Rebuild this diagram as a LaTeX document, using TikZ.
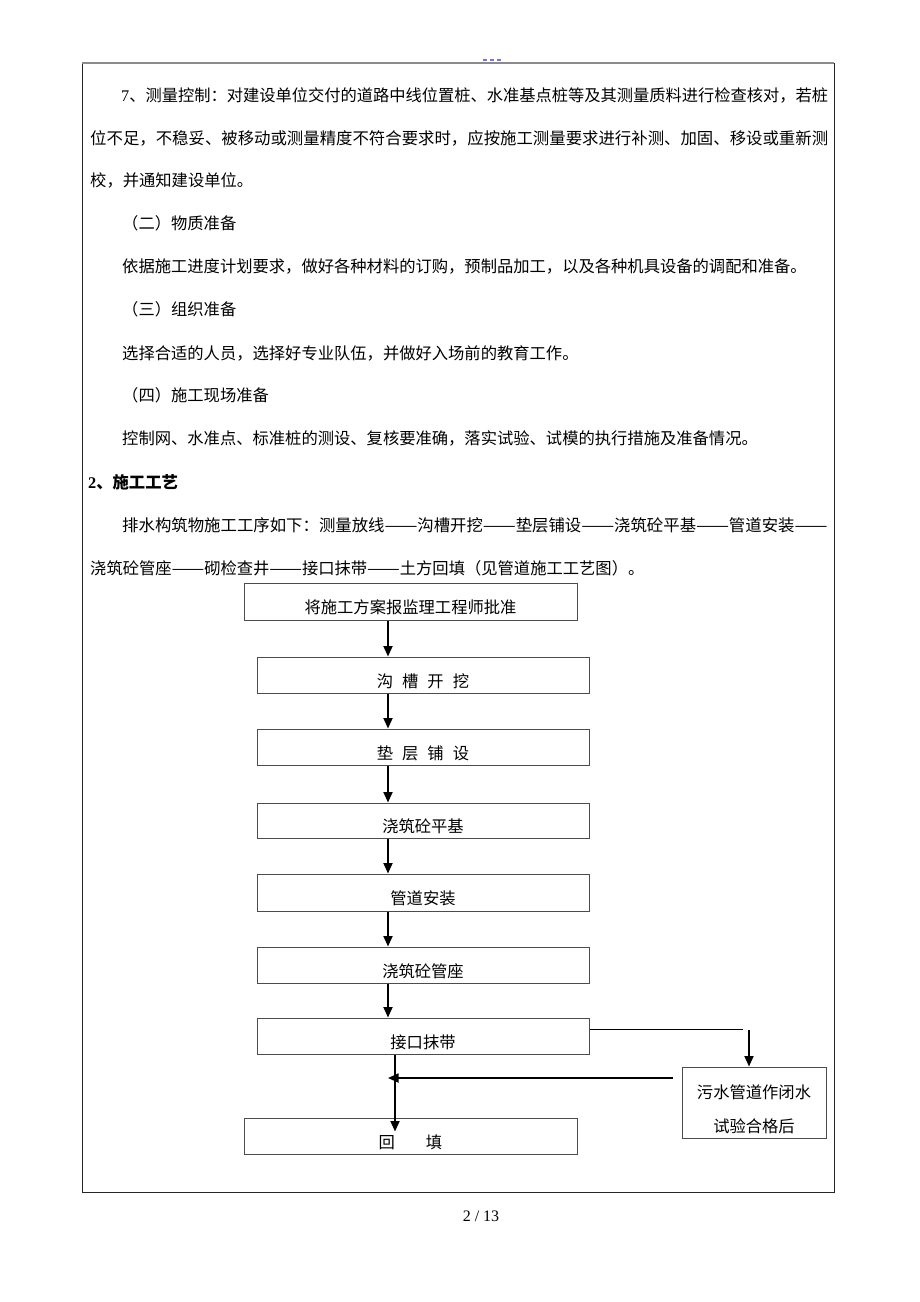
\documentclass[tikz,border=0pt]{standalone}
\usepackage{fontspec}
\usepackage{graphicx}
\setmainfont{Liberation Serif}
\newfontfamily\cjk{Noto Sans CJK SC}
\usetikzlibrary{arrows.meta}
\newcommand\bodyfs[1]{\fontsize{#1}{20}\selectfont\cjk}
\newcommand\dd{\makebox[2em]{\scalebox{1.2}[1]{——}}}
\newcommand\lowtext[1]{\raisebox{-12pt}[0pt][0pt]{#1}}
\definecolor{markblue}{RGB}{115,115,245}
\begin{document}
\begin{tikzpicture}[x=1pt,y=-1pt,
  txt/.style={anchor=base west, inner sep=0pt, font=\bodyfs{16.3}},
  box/.style={draw=black!70, line width=1pt, inner sep=0pt, minimum width=332pt, minimum height=36pt, font=\bodyfs{16.3}},
  arr/.style={line width=1.8pt, -{Triangle[length=10.5pt,width=9pt]}},
  thinline/.style={line width=1pt},
  plain/.style={inner sep=0pt, font=\bodyfs{16.3}}]
\useasboundingbox (0,0) rectangle (920,1302);
\fill[white] (0,0) rectangle (920,1302);
% page marks
\fill[markblue] (483,59) rectangle (487,61);
\fill[markblue] (490,59) rectangle (494,61);
\fill[markblue] (497,59) rectangle (501,61);
% frame
\draw[black!85, line width=0.8pt] (82,63) -- (82,1192) -- (834,1192) -- (834,63);
\draw[black!45, line width=1.4pt] (82,63) -- (834,63);
% text
\node[txt, font=\bodyfs{16.25}] (t1) at (121,101) {{\rmfamily 7}、测量控制：对建设单位交付的道路中线位置桩、水准基点桩等及其测量质料进行检查核对，若桩};
\node[txt, font=\bodyfs{16.4}] (t2) at (90,144) {位不足，不稳妥、被移动或测量精度不符合要求时，应按施工测量要求进行补测、加固、移设或重新测};
\node[txt] (t3) at (90,186) {校，并通知建设单位。};
\node[txt] (t4) at (122,229) {（二）物质准备};
\node[txt] (t5) at (122,272) {依据施工进度计划要求，做好各种材料的订购，预制品加工，以及各种机具设备的调配和准备。};
\node[txt] (t6) at (122,315) {（三）组织准备};
\node[txt] (t7) at (122,359) {选择合适的人员，选择好专业队伍，并做好入场前的教育工作。};
\node[txt] (t8) at (122,401) {（四）施工现场准备};
\node[txt] (t9) at (122,444) {控制网、水准点、标准桩的测设、复核要准确，落实试验、试模的执行措施及准备情况。};
\node[txt] (t10) at (88,488) {{\rmfamily\bfseries 2}{\bfseries 、施工工艺}};
\node[txt, font=\bodyfs{16.4}] (t11) at (122,531) {排水构筑物施工工序如下：测量放线\dd 沟槽开挖\dd 垫层铺设\dd 浇筑砼平基\dd 管道安装\dd};
\node[txt] (t12) at (90,574) {浇筑砼管座\dd 砌检查井\dd 接口抹带\dd 土方回填（见管道施工工艺图）。};
% flow boxes
\node[box, minimum width=333pt, minimum height=37pt] (b1) at (410.5,601.5) {\lowtext{将施工方案报监理工程师批准}};
\node[box] (b2) at (423,675) {\lowtext{沟\hspace{9pt}槽\hspace{9pt}开\hspace{9pt}挖}};
\node[box] (b3) at (423,747) {\lowtext{垫\hspace{9pt}层\hspace{9pt}铺\hspace{9pt}设}};
\node[box, minimum height=35pt] (b4) at (423,820.5) {\lowtext{浇筑砼平基}};
\node[box, minimum height=37pt] (b5) at (423,892.5) {\lowtext{管道安装}};
\node[box] (b6) at (423,965) {\lowtext{浇筑砼管座}};
\node[box] (b7) at (423,1036) {\lowtext{接口抹带}};
\node[box, minimum width=144pt, minimum height=71pt] (b8) at (754,1102.5) {};
\node[plain] (b8a) at (754,1092) {污水管道作闭水};
\node[plain] (b8b) at (754,1126) {试验合格后};
\node[box, minimum width=333pt] (b9) at (410.5,1136) {\lowtext{回\hspace{31pt}填}};
% connectors
\coordinate (ax) at (388,0);
\draw[arr] (b1.south -| ax) -- (b2.north -| ax);
\draw[arr] (b2.south -| ax) -- (b3.north -| ax);
\draw[arr] (b3.south -| ax) -- (b4.north -| ax);
\draw[arr] (b4.south -| ax) -- (b5.north -| ax);
\draw[arr] (b5.south -| ax) -- (b6.north -| ax);
\draw[arr] (b6.south -| ax) -- (b7.north -| ax);
\coordinate (h1) at (743,1029);
\draw[thinline] (b7.east |- h1) -- (h1);
\coordinate (dx) at (749,1030);
\draw[arr] (dx) -- (dx |- b8.north);
\coordinate (ls) at (673,1078);
\coordinate (le) at (388,1078);
\draw[arr] (ls) -- (le);
\coordinate (vx) at (395,0);
\draw[arr] (b7.south -| vx) -- ([yshift=-14pt]b9.north -| vx);
% page number
\node[inner sep=0pt, font=\fontsize{16}{18}\selectfont] (pg) at (481,1216) {2 / 13};
\end{tikzpicture}
\end{document}
